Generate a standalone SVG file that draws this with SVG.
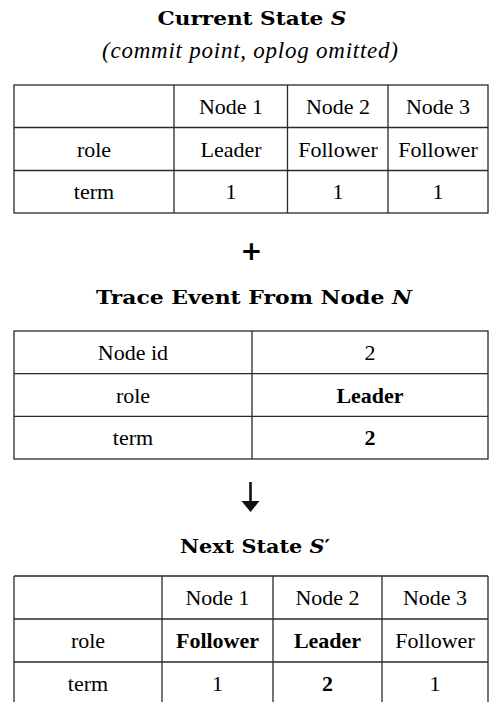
<svg xmlns="http://www.w3.org/2000/svg" width="490" height="702" viewBox="0 0 490 702">
<style>
.grid{stroke:#2a2a2a;stroke-width:1.3;fill:none}
</style>
<rect x="0" y="0" width="490" height="702" fill="#ffffff"/>

<g id="current-state" text-anchor="middle" fill="#000">
  <text font-family="DejaVu Serif" font-weight="bold" font-size="18.5" x="252" y="25" textLength="189" lengthAdjust="spacingAndGlyphs">Current State <tspan font-style="italic">S</tspan></text>
  <text font-family="Liberation Serif" font-style="italic" font-size="23" x="250" y="58" textLength="296" lengthAdjust="spacing">(commit point, oplog omitted)</text>
  <rect class="grid" x="14" y="85" width="474" height="128"/>
  <path class="grid" d="M14 127.5H488M14 170.5H488M174 85V213M287.5 85V213M388 85V213"/>
  <text font-family="Liberation Serif" font-size="22" x="231" y="114">Node 1</text>
  <text font-family="Liberation Serif" font-size="22" x="338" y="114">Node 2</text>
  <text font-family="Liberation Serif" font-size="22" x="438" y="114">Node 3</text>
  <text font-family="Liberation Serif" font-size="22" x="94" y="156.5">role</text>
  <text font-family="Liberation Serif" font-size="22" x="231" y="156.5">Leader</text>
  <text font-family="Liberation Serif" font-size="22" x="338" y="156.5">Follower</text>
  <text font-family="Liberation Serif" font-size="22" x="438" y="156.5">Follower</text>
  <text font-family="Liberation Serif" font-size="22" x="94" y="199">term</text>
  <text font-family="Liberation Serif" font-size="22" x="231" y="199">1</text>
  <text font-family="Liberation Serif" font-size="22" x="338" y="199">1</text>
  <text font-family="Liberation Serif" font-size="22" x="438" y="199">1</text>
</g>

<g id="plus" text-anchor="middle" fill="#000">
  <text font-family="DejaVu Sans" font-weight="bold" font-size="26" x="251.5" y="259.5">+</text>
</g>

<g id="trace-event" text-anchor="middle" fill="#000">
  <text font-family="DejaVu Serif" font-weight="bold" font-size="18.5" x="254" y="304" textLength="316" lengthAdjust="spacingAndGlyphs">Trace Event From Node <tspan font-style="italic">N</tspan></text>
  <rect class="grid" x="14" y="331" width="474" height="128"/>
  <path class="grid" d="M14 373.7H488M14 416.3H488M252 331V459"/>
  <text font-family="Liberation Serif" font-size="22" x="133" y="360">Node id</text>
  <text font-family="Liberation Serif" font-size="22" x="370" y="360">2</text>
  <text font-family="Liberation Serif" font-size="22" x="133" y="402.5">role</text>
  <text font-family="Liberation Serif" font-size="22" font-weight="bold" x="370" y="402.5">Leader</text>
  <text font-family="Liberation Serif" font-size="22" x="133" y="445">term</text>
  <text font-family="Liberation Serif" font-size="22" font-weight="bold" x="370" y="445">2</text>
</g>

<g id="connectors">
  <path d="M250.5 482V503" stroke="#111" stroke-width="2.6" fill="none"/>
  <path d="M241.5 501L259.5 501L250.5 512Z" fill="#111"/>
</g>

<g id="next-state" text-anchor="middle" fill="#000">
  <text font-family="DejaVu Serif" font-weight="bold" font-size="18.5" x="255" y="553" textLength="150" lengthAdjust="spacingAndGlyphs">Next State <tspan font-style="italic">S</tspan>′</text>
  <path class="grid" d="M14 576H488M14 619H488M14 662H488M14 576V702M162 576V702M273 576V702M382 576V702M488 576V702"/>
  <text font-family="Liberation Serif" font-size="22" x="217.5" y="605">Node 1</text>
  <text font-family="Liberation Serif" font-size="22" x="327.5" y="605">Node 2</text>
  <text font-family="Liberation Serif" font-size="22" x="435" y="605">Node 3</text>
  <text font-family="Liberation Serif" font-size="22" x="88" y="648">role</text>
  <text font-family="Liberation Serif" font-size="22" font-weight="bold" x="217.5" y="648">Follower</text>
  <text font-family="Liberation Serif" font-size="22" font-weight="bold" x="327.5" y="648">Leader</text>
  <text font-family="Liberation Serif" font-size="22" x="435" y="648">Follower</text>
  <text font-family="Liberation Serif" font-size="22" x="88" y="691">term</text>
  <text font-family="Liberation Serif" font-size="22" x="217.5" y="691">1</text>
  <text font-family="Liberation Serif" font-size="22" font-weight="bold" x="327.5" y="691">2</text>
  <text font-family="Liberation Serif" font-size="22" x="435" y="691">1</text>
</g>
</svg>
